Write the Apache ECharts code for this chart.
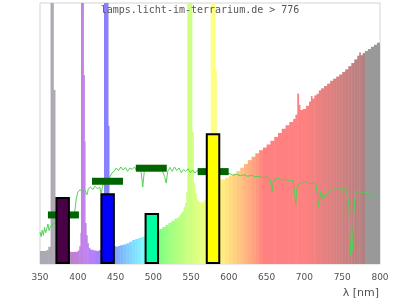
<!DOCTYPE html>
<html>
<head>
<meta charset="utf-8">
<script src="https://cdn.jsdelivr.net/npm/echarts@6/dist/echarts.min.js"></script>
<style>html,body{margin:0;padding:0;background:#fff}#c{width:400px;height:300px}</style>
</head>
<body>
<div id="c"></div>
<script>
// ---- data ----
const titleText = 'lamps.licht-im-terrarium.de > 776';
const xTicks = [350, 400, 450, 500, 550, 600, 650, 700, 750, 800];

// lamp spectrum: bin edges (nm) and bin values (relative)
const specEdges = [350, 358, 361, 364, 367.6, 369.8, 372, 376, 380, 385, 390, 395, 400, 402, 403.5, 404.3, 407.4, 408.7, 409.6, 411, 412.5, 414, 416, 420, 424, 428, 431, 433, 434.7, 440, 441.3, 443, 446, 450, 453, 456, 460, 464, 468, 472, 476, 480, 484, 488, 492, 496, 500, 504, 508, 512, 516, 520, 524, 528, 532, 535, 537.5, 540, 542, 543.5, 545, 551, 553, 555, 557, 559, 562, 565, 567, 570, 573, 576, 581.6, 583.3, 585, 588, 590.5, 595, 600, 605, 610, 615, 620, 625, 630, 635, 640, 645, 650, 655, 660, 665, 670, 675, 680, 685, 688, 690.5, 692.3, 694, 698, 702, 706, 708.5, 710, 713, 716, 719, 722, 726, 730, 734, 738, 742, 746, 750, 754, 758, 762, 766, 770, 772.5, 774, 777, 780, 784, 788, 792, 796, 800];
const specValues = [5.0, 5.3, 6.6, 130, 66.7, 20, 8, 5.5, 5.0, 4.8, 4.6, 4.7, 5.2, 6.8, 12, 130, 72.4, 47, 15.7, 11, 8, 6.2, 5.5, 5.2, 5.0, 5.3, 6.5, 10, 130, 53, 16, 8.5, 6.8, 6.6, 6.9, 7.2, 7.5, 7.9, 8.5, 9.2, 9.6, 10.0, 10.4, 10.8, 11.3, 11.8, 12.3, 12.8, 13.4, 14.2, 15.0, 15.8, 16.6, 17.4, 18.1, 19.0, 20.0, 21.8, 23.4, 27.5, 130, 50.7, 31, 27, 24.5, 23.9, 23.5, 23.9, 24.5, 26, 30, 130, 74.3, 42, 34, 32.5, 32.4, 33.0, 33.8, 34.6, 35.6, 36.9, 38.3, 39.8, 41.1, 42.4, 43.6, 44.6, 45.8, 47.2, 48.7, 50.2, 51.8, 53.2, 54.4, 55.6, 57.2, 65.3, 61, 59, 59.4, 60.6, 62.2, 64.4, 63.4, 64.6, 65.2, 66.5, 67.3, 68.2, 69.1, 70.2, 71.0, 71.8, 72.6, 73.6, 74.6, 75.8, 77.0, 78.4, 79.8, 81, 80, 80.8, 81.6, 82.4, 83.2, 84.0, 84.8];

// reference spectrum (green line)
const refL = [350, 351.5, 353, 354.5, 356, 357.5, 359, 360.5, 362, 364, 366, 370, 375, 380, 385, 390, 391, 394, 396, 398, 400, 403, 406, 409, 412, 414, 417, 420, 423, 426, 429, 431, 433, 436, 439, 442, 445, 448, 451, 454, 457, 460, 463, 466, 469, 472, 475, 478, 481, 484, 486, 488, 491, 494, 497, 500, 503, 506, 509, 512, 515, 517, 519, 522, 525, 528, 531, 534, 537, 540, 543, 546, 549, 552, 555, 558, 561, 564, 567, 570, 575, 580, 585, 590, 595, 600, 605, 610, 615, 620, 625, 630, 635, 640, 645, 650, 654, 656, 657, 658.5, 661, 665, 670, 675, 680, 685, 686.5, 687.5, 688.5, 690, 693, 697, 700, 703, 707, 711, 715, 717, 718.5, 720, 721.5, 723, 725, 727, 729, 731, 733, 735, 740, 745, 750, 755, 757, 758.5, 759.5, 760.5, 761.5, 762.5, 763.5, 765, 766.5, 768, 772, 776, 780, 784, 786, 790, 795, 800];
const refV = [12.3, 10.5, 13.0, 11.0, 14.0, 12.0, 13.5, 15.3, 12.8, 14.5, 15, 16, 17, 18, 19, 19.5, 19.4, 17.6, 20, 25, 27.5, 28.5, 27.5, 28.5, 26.5, 28.8, 29.5, 28.5, 29.8, 28.8, 29.5, 27, 30, 32, 30.5, 33, 34.8, 35.5, 36.8, 35.8, 37.2, 36, 37, 35.5, 36.8, 36.2, 37.2, 35.8, 36.8, 35, 29.5, 35.5, 37, 35.8, 37.4, 36.2, 37, 35.8, 37, 35.5, 33.5, 31, 35.5, 37, 35.5, 37.2, 35.8, 36.8, 35, 36.2, 35.5, 36.5, 35, 36, 34.8, 35.8, 35, 36, 35.2, 35.6, 35, 35.3, 34.6, 35, 34.2, 34.8, 34.0, 34.4, 33.8, 34.2, 33.6, 34, 33.4, 33.6, 33.0, 33.4, 32.8, 30, 27.6, 31, 32.6, 32.8, 32.2, 32.4, 31.8, 32, 31.4, 26, 22.6, 29, 30.8, 31, 31.6, 31.2, 30.8, 31, 30.6, 27, 22, 25, 28, 24.5, 27, 25.5, 26.5, 26, 28, 28.7, 28.9, 28.6, 29, 28.7, 28.4, 24, 17, 8, 3.4, 12, 5, 18, 24, 27.4, 27.8, 27.4, 27.6, 27, 26.4, 26.3, 25.6, 25.4];

// receptor bars and their markers
const barL = [380, 439.5, 498, 579];
const barV = [25.7, 27.1, 19.5, 50.1];
const barColors = ['#4a0047', '#0000ff', '#00ffa0', '#ffff00'];
const markL = [381, 439.3, 497.3, 579.2];
const markV = [18.8, 31.7, 36.7, 35.4];

// ---- colours by wavelength ----
function wlColor(l) {
  if (l < 380) return 'rgb(174,168,179)';
  if (l >= 781) return 'rgb(153,153,153)';
  let r, g, b;
  if (l < 440) { r = (440 - l) / 60; g = 0; b = 1; }
  else if (l < 490) { r = 0; g = (l - 440) / 50; b = 1; }
  else if (l < 510) { r = 0; g = 1; b = (510 - l) / 20; }
  else if (l < 580) { r = (l - 510) / 70; g = 1; b = 0; }
  else if (l < 645) { r = 1; g = (645 - l) / 65; b = 0; }
  else { r = 1; g = 0; b = 0; }
  let f = 1;
  if (l < 420) f = 0.3 + 0.7 * (l - 380) / 40;
  else if (l > 700) f = 0.3 + 0.7 * (780 - l) / 80;
  const adj = c => c === 0 ? 0 : Math.pow(c * f, 0.8);
  const v = [r, g, b].map(c => Math.round(255 * (0.5 + 0.5 * adj(c))));
  return 'rgb(' + v.join(',') + ')';
}

const specData = specValues.map((v, i) => [specEdges[i], specEdges[i + 1], v]);

const chart = echarts.init(document.getElementById('c'), null, { renderer: 'canvas' });
chart.setOption({
  animation: false,
  title: {
    text: titleText, left: 'center', top: 5, padding: 0,
    textStyle: { fontFamily: 'DejaVu Sans Mono', fontSize: 10, fontWeight: 'normal', color: '#555' }
  },
  grid: { left: 40, right: 20, top: 3, bottom: 36, show: true, borderColor: '#d4d4d4', borderWidth: 1, backgroundColor: 'transparent' },
  xAxis: {
    type: 'value', min: 350, max: 800, interval: 50,
    name: 'λ [nm]', nameLocation: 'end', nameGap: -1,
    nameTextStyle: { align: 'right', verticalAlign: 'top', padding: [24, 0, 0, 0], fontFamily: 'DejaVu Sans', fontSize: 11, color: '#505050' },
    axisLine: { show: false }, axisTick: { show: false }, splitLine: { show: false },
    axisLabel: { margin: 9, fontFamily: 'DejaVu Sans', fontSize: 9, color: '#505050',
      formatter: v => xTicks.includes(v) ? String(v) : '' }
  },
  yAxis: { type: 'value', min: 0, max: 100, show: false, splitLine: { show: false } },
  series: [
    {
      type: 'custom', z: 1, clip: true,
      renderItem: (params, api) => {
        const l0 = api.value(0), l1 = api.value(1), v = api.value(2);
        const p0 = api.coord([l0, v]);
        const p1 = api.coord([l1, 0]);
        const cs = params.coordSys;
        const rect = echarts.graphic.clipRectByRect(
          { x: p0[0], y: p0[1], width: p1[0] - p0[0] + 0.5, height: p1[1] - p0[1] },
          { x: cs.x, y: cs.y, width: cs.width, height: cs.height });
        if (!rect) return null;
        return { type: 'rect', shape: rect, style: { fill: wlColor((l0 + l1) / 2) } };
      },
      encode: { x: [0, 1], y: 2 },
      data: specData
    },
    {
      type: 'line', z: 2, symbol: 'none', clip: true,
      lineStyle: { width: 1, color: '#52d052' },
      data: refL.map((l, i) => [l, refV[i]])
    },
    {
      type: 'scatter', z: 3, symbol: 'rect', symbolSize: [31, 7],
      itemStyle: { color: '#006400', opacity: 1 },
      data: markL.map((l, i) => [l, markV[i]])
    },
    {
      type: 'bar', z: 4, barWidth: 14.5,
      itemStyle: { borderColor: '#000', borderWidth: 2 },
      data: barL.map((l, i) => ({ value: [l, barV[i]], itemStyle: { color: barColors[i] } }))
    }
  ]
});
</script>
</body>
</html>
